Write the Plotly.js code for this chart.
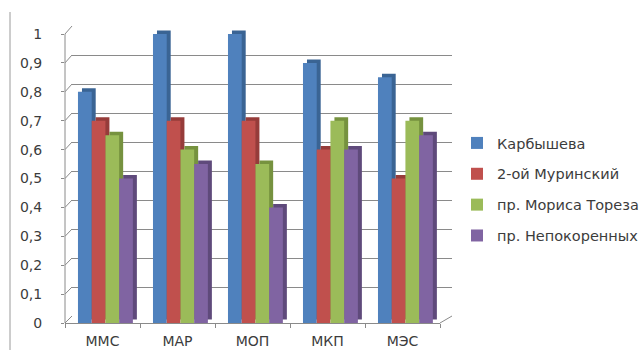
<!DOCTYPE html>
<html>
<head>
<meta charset="utf-8">
<script src="https://cdn.plot.ly/plotly-3.0.1.min.js"></script>
<style>html,body{margin:0;padding:0;background:#fff;}#chart{width:644px;height:350px;}</style>
</head>
<body>
<div id="chart"></div>
<script>
// ---- data ----
const categories = ['ММС', 'МАР', 'МОП', 'МКП', 'МЭС'];
const seriesNames = ['Карбышева', '2-ой Муринский', 'пр. Мориса Тореза', 'пр. Непокоренных'];
const karbysheva = [0.8, 1.0, 1.0, 0.9, 0.85];
const murinsky2 = [0.7, 0.7, 0.7, 0.6, 0.5];
const toreza = [0.65, 0.6, 0.55, 0.7, 0.7];
const nepokorennyh = [0.5, 0.55, 0.4, 0.6, 0.65];
const yTicks = [0, 0.1, 0.2, 0.3, 0.4, 0.5, 0.6, 0.7, 0.8, 0.9, 1];

// ---- styling ----
const W = 644, H = 350;
const px = x => x / W;
const py = y => 1 - y / H;
const frontColors = ['#4F81BD', '#C0504D', '#9BBB59', '#8064A2'];
const sideColors  = ['#3A6494', '#963C3A', '#76923F', '#5F4A7B'];
const values = [karbysheva, murinsky2, toreza, nepokorennyh];

// geometry (pixels)
const front = {x0: 65, x1: 440, y0: 323, y1: 34};
const back  = {x0: 72, x1: 452, y0: 316, y1: 26};
const catPx = (front.x1 - front.x0) / categories.length;
const unitPx = front.y0 - front.y1;
const yMax = 1.06;                       // headroom so 3D tops are not clipped
const topPx = front.y0 - yMax * unitPx;
const barW = 0.183, firstOff = -0.327;
const depthX = 4 / catPx, depthY = 3.5 / unitPx;

const traces = [];
// back-wall grid subplot (empty trace)
traces.push({type: 'scatter', x: [], y: [], xaxis: 'x', yaxis: 'y', showlegend: false, hoverinfo: 'skip'});
// side/top faces (drawn first)
values.forEach((v, i) => {
  traces.push({
    type: 'bar', x: categories, y: v, base: depthY,
    xaxis: 'x2', yaxis: 'y2', cliponaxis: false,
    width: barW, offset: firstOff + i * barW + depthX,
    marker: {color: sideColors[i], line: {width: 0}},
    showlegend: false, legendgroup: 'g' + i, hoverinfo: 'skip'
  });
});
// front faces
values.forEach((v, i) => {
  traces.push({
    type: 'bar', x: categories, y: v, name: seriesNames[i],
    xaxis: 'x2', yaxis: 'y2', cliponaxis: false,
    width: barW, offset: firstOff + i * barW,
    marker: {color: frontColors[i], line: {width: 0}},
    legendgroup: 'g' + i
  });
});

const lineCol = '#8a8a8a';
const shapes = [];
// diagonal connectors from front axis to back wall
const fy = v => py(front.y0 - v * unitPx);
const by = v => py(back.y0 - v * (back.y0 - back.y1));
yTicks.forEach(v => {
  shapes.push({type: 'line', xref: 'paper', yref: 'paper', layer: 'below',
    x0: px(front.x0), y0: fy(v), x1: px(back.x0), y1: by(v),
    line: {color: lineCol, width: 1}});
});
// front vertical axis line (0..1 only)
shapes.push({type: 'line', xref: 'paper', yref: 'paper', layer: 'below',
  x0: px(front.x0), y0: fy(yTicks[0]), x1: px(front.x0), y1: fy(yTicks[yTicks.length - 1]),
  line: {color: lineCol, width: 1}});
// floor right edge
shapes.push({type: 'line', xref: 'paper', yref: 'paper', layer: 'below',
  x0: px(front.x1), y0: fy(0), x1: px(back.x1), y1: by(0),
  line: {color: lineCol, width: 1}});
// left frame line
shapes.push({type: 'line', xref: 'paper', yref: 'paper',
  x0: px(10), y0: py(12), x1: px(10), y1: 0,
  line: {color: '#9a9a9a', width: 1}});

const fam = 'DejaVu Sans, Verdana, sans-serif';
const txtCol = '#3c3c3c';

const layout = {
  width: W, height: H,
  margin: {l: 0, r: 0, t: 0, b: 0},
  paper_bgcolor: '#ffffff', plot_bgcolor: 'rgba(0,0,0,0)',
  separators: ', ',
  barmode: 'overlay',
  font: {family: fam, size: 13, color: txtCol},
  xaxis: {domain: [px(back.x0), px(back.x1)], range: [0, 1], anchor: 'y',
    showgrid: false, zeroline: false, showticklabels: false, ticks: '', showline: false, fixedrange: true},
  yaxis: {domain: [py(back.y0), py(back.y1)], range: [0, 1.0001], anchor: 'x',
    tickmode: 'array', tickvals: yTicks, showgrid: true, gridcolor: lineCol, gridwidth: 1,
    zeroline: false, showticklabels: false, ticks: '', showline: false, fixedrange: true},
  xaxis2: {domain: [px(front.x0), px(front.x1)], type: 'category', range: [-0.5, categories.length - 0.5],
    anchor: 'y2', showline: true, linecolor: lineCol, linewidth: 1,
    ticks: 'outside', tickson: 'boundaries', ticklen: 4, tickcolor: lineCol,
    showgrid: false, zeroline: false, tickfont: {family: fam, size: 14, color: txtCol}, ticklabelstandoff: 5, fixedrange: true},
  yaxis2: {domain: [py(front.y0), py(topPx)], range: [0, yMax], anchor: 'x2',
    tickmode: 'array', tickvals: yTicks,
    showgrid: false, zeroline: false, showline: false,
    ticks: 'outside', ticklen: 3, tickcolor: lineCol,
    tickfont: {family: fam, size: 14, color: txtCol}, ticklabelstandoff: 16, fixedrange: true},
  legend: {x: px(457), y: py(127), xanchor: 'left', yanchor: 'top',
    traceorder: 'grouped', tracegroupgap: 9,
    font: {family: fam, size: 14.5, color: txtCol}, bgcolor: 'rgba(0,0,0,0)'},
  shapes: shapes,
  showlegend: true
};

Plotly.newPlot('chart', traces, layout, {displayModeBar: false, staticPlot: true});
</script>
</body>
</html>
